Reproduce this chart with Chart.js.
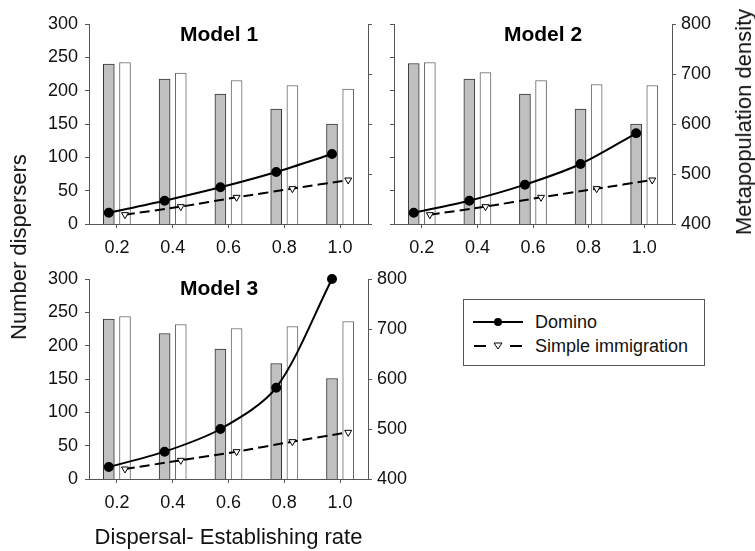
<!DOCTYPE html>
<html>
<head>
<meta charset="utf-8">
<script src="https://cdn.jsdelivr.net/npm/chart.js@4.4.1/dist/chart.umd.min.js"></script>
<style>
  body { margin: 0; background: #fff; }
  #wrap { position: relative; width: 755px; height: 551px; overflow: hidden;
          font-family: "Liberation Sans", Arial, sans-serif; color: #111; }
  canvas { position: absolute; }
  .ytitle { position: absolute; font-size: 22px; white-space: nowrap;
            transform: translate(-50%, -50%) rotate(-90deg); }
  #legend { position: absolute; left: 463px; top: 299px; width: 242px; height: 67px;
            box-sizing: border-box; border: 1px solid #555; font-size: 18px; }
  #legend .row { position: absolute; left: 9px; height: 22px; line-height: 22px; white-space: nowrap; }
  #legend svg { vertical-align: top; margin-right: 12px; }
</style>
</head>
<body>
<div id="wrap">
  <canvas id="c1" width="380" height="262" style="left:0;top:0"></canvas>
  <canvas id="c2" width="375" height="262" style="left:380px;top:0"></canvas>
  <canvas id="c3" width="420" height="296" style="left:0;top:255px"></canvas>

  <div class="ytitle" style="left:19px;top:247px">Number dispersers</div>
  <div class="ytitle" style="left:744px;top:122px">Metapopulation density</div>

  <div id="legend">
    <div class="row" style="top:11px">
      <svg width="50" height="22"><line x1="0" y1="11" x2="50" y2="11" stroke="#000" stroke-width="2"/><circle cx="25" cy="11" r="4" fill="#000"/></svg>Domino
    </div>
    <div class="row" style="top:35px">
      <svg width="50" height="22"><line x1="1" y1="11" x2="13" y2="11" stroke="#000" stroke-width="2"/><line x1="37" y1="11" x2="49" y2="11" stroke="#000" stroke-width="2"/><polygon points="21,8 29,8 25,14" fill="#fff" stroke="#000" stroke-width="1"/></svg>Simple immigration
    </div>
  </div>
</div>

<script>
// dispersal-establishing rate (categories)
const rates = [0.2, 0.4, 0.6, 0.8, 1.0];
const rateLabels = rates.map(r => r.toFixed(1));

// Model 1
const m1DensGrey  = [720, 690, 660, 630, 600];
const m1DensWhite = [723, 702, 687, 677, 670];
const m1Domino    = [17, 35, 55, 78, 105];
const m1Simple    = [14, 26, 40, 53, 66];

// Model 2
const m2DensGrey  = [721, 690, 660, 630, 600];
const m2DensWhite = [723, 703, 687, 679, 677];
const m2Domino    = [17, 35, 59, 90, 136];
const m2Simple    = [14, 26, 40, 53, 66];

// Model 3
const m3DensGrey  = [720, 691, 660, 631, 601];
const m3DensWhite = [725, 709, 701, 705, 715];
const m3Domino    = [18, 41, 75, 137, 300];
const m3Simple    = [15, 28, 41, 56, 70];

const AXIS = '#555';
const GROUP_PCT = 0.58;   // share of a category taken by the bar pair
const BAR_W = 11;

Chart.defaults.font.family = '"Liberation Sans", Arial, sans-serif';
Chart.defaults.font.size = 18;
Chart.defaults.color = '#111';

// model name written inside the plot area
const panelTitle = {
  id: 'panelTitle',
  afterDatasetsDraw(chart, args, opts) {
    const {ctx, chartArea} = chart;
    ctx.save();
    ctx.font = 'bold 21px "Liberation Sans", Arial, sans-serif';
    ctx.fillStyle = '#000';
    ctx.textAlign = 'center';
    ctx.textBaseline = 'middle';
    ctx.fillText(opts.text, chartArea.left + chartArea.width * opts.xFrac, chartArea.top + opts.dy);
    ctx.restore();
  }
};

const pts = vals => rates.map((r, i) => ({x: r, y: vals[i]}));

function panel(id, name, grey, white, domino, simple, o) {
  // grey bars + Domino sit left of the category centre, white bars + Simple right of it
  const shift = 0.2 * GROUP_PCT / 4;
  return new Chart(document.getElementById(id), {
    type: 'bar',
    plugins: [panelTitle],
    data: {
      labels: rateLabels,
      datasets: [
        {
          type: 'line', label: 'Domino', data: pts(domino),
          xAxisID: 'xL', yAxisID: 'yDisp',
          borderColor: '#000', borderWidth: 2, tension: 0.3,
          pointRadius: 4, pointBackgroundColor: '#000', pointBorderColor: '#000',
          clip: false, order: 0
        },
        {
          type: 'line', label: 'Simple immigration', data: pts(simple),
          xAxisID: 'xR', yAxisID: 'yDisp',
          borderColor: '#000', borderWidth: 2, borderDash: [10, 5], tension: 0.2,
          pointStyle: 'triangle', pointRotation: 180, pointRadius: 4,
          pointBackgroundColor: '#fff', pointBorderColor: '#000', pointBorderWidth: 1,
          clip: false, order: 1
        },
        {
          label: 'Density (Domino)', data: pts(grey), xAxisID: 'xL', yAxisID: 'yDens',
          backgroundColor: '#c0c0c0', borderColor: '#333', borderWidth: 1,
          barThickness: BAR_W, grouped: false, order: 2
        },
        {
          label: 'Density (Simple immigration)', data: pts(white), xAxisID: 'xR', yAxisID: 'yDens',
          backgroundColor: '#fff', borderColor: '#666', borderWidth: 1,
          barThickness: BAR_W, grouped: false, order: 3
        }
      ]
    },
    options: {
      responsive: false,
      animation: false,
      devicePixelRatio: 1,
      layout: { padding: { top: 24, left: 0, right: 0, bottom: 0 } },
      plugins: {
        legend: { display: false },
        tooltip: { enabled: false },
        panelTitle: { text: name, xFrac: o.titleX, dy: o.titleY }
      },
      scales: {
        x: {
          type: 'category', offset: true,
          grid: { offset: false, drawOnChartArea: false, tickLength: 4, color: AXIS },
          border: { color: AXIS },
          ticks: { padding: 9, maxRotation: 0, color: '#111' },
          title: o.xTitle ? { display: true, text: o.xTitle, font: { size: 22 }, color: '#111', padding: { top: 0, bottom: 0 } } : { display: false },
          afterFit: s => { s.height = o.xHeight; }
        },
        xL: { type: 'linear', display: false, offset: false, min: 0.1 + shift, max: 1.1 + shift },
        xR: { type: 'linear', display: false, offset: false, min: 0.1 - shift, max: 1.1 - shift },
        yDisp: {
          position: 'left', min: 0, max: 300,
          grid: { drawOnChartArea: false, tickLength: 4, color: AXIS },
          border: { color: AXIS },
          ticks: { stepSize: 50, display: o.leftLabels, padding: 7, color: '#111' },
          afterFit: s => { s.width = o.leftWidth; }
        },
        yDens: {
          position: 'right', min: 400, max: 800,
          grid: { drawOnChartArea: false, tickLength: 4, color: AXIS },
          border: { color: AXIS },
          ticks: { stepSize: 100, display: o.rightLabels, padding: 5, color: '#111' },
          afterFit: s => { s.width = o.rightWidth; }
        }
      }
    }
  });
}

panel('c1', 'Model 1', m1DensGrey, m1DensWhite, m1Domino, m1Simple,
  { leftLabels: true, rightLabels: false, leftWidth: 89, rightWidth: 12, xHeight: 38, titleX: 0.466, titleY: 11 });
panel('c2', 'Model 2', m2DensGrey, m2DensWhite, m2Domino, m2Simple,
  { leftLabels: false, rightLabels: true, leftWidth: 14, rightWidth: 83, xHeight: 38, titleX: 0.536, titleY: 11 });
panel('c3', 'Model 3', m3DensGrey, m3DensWhite, m3Domino, m3Simple,
  { leftLabels: true, rightLabels: true, leftWidth: 89, rightWidth: 52, xHeight: 72, titleX: 0.466, titleY: 10,
    xTitle: 'Dispersal- Establishing rate' });
</script>
</body>
</html>
